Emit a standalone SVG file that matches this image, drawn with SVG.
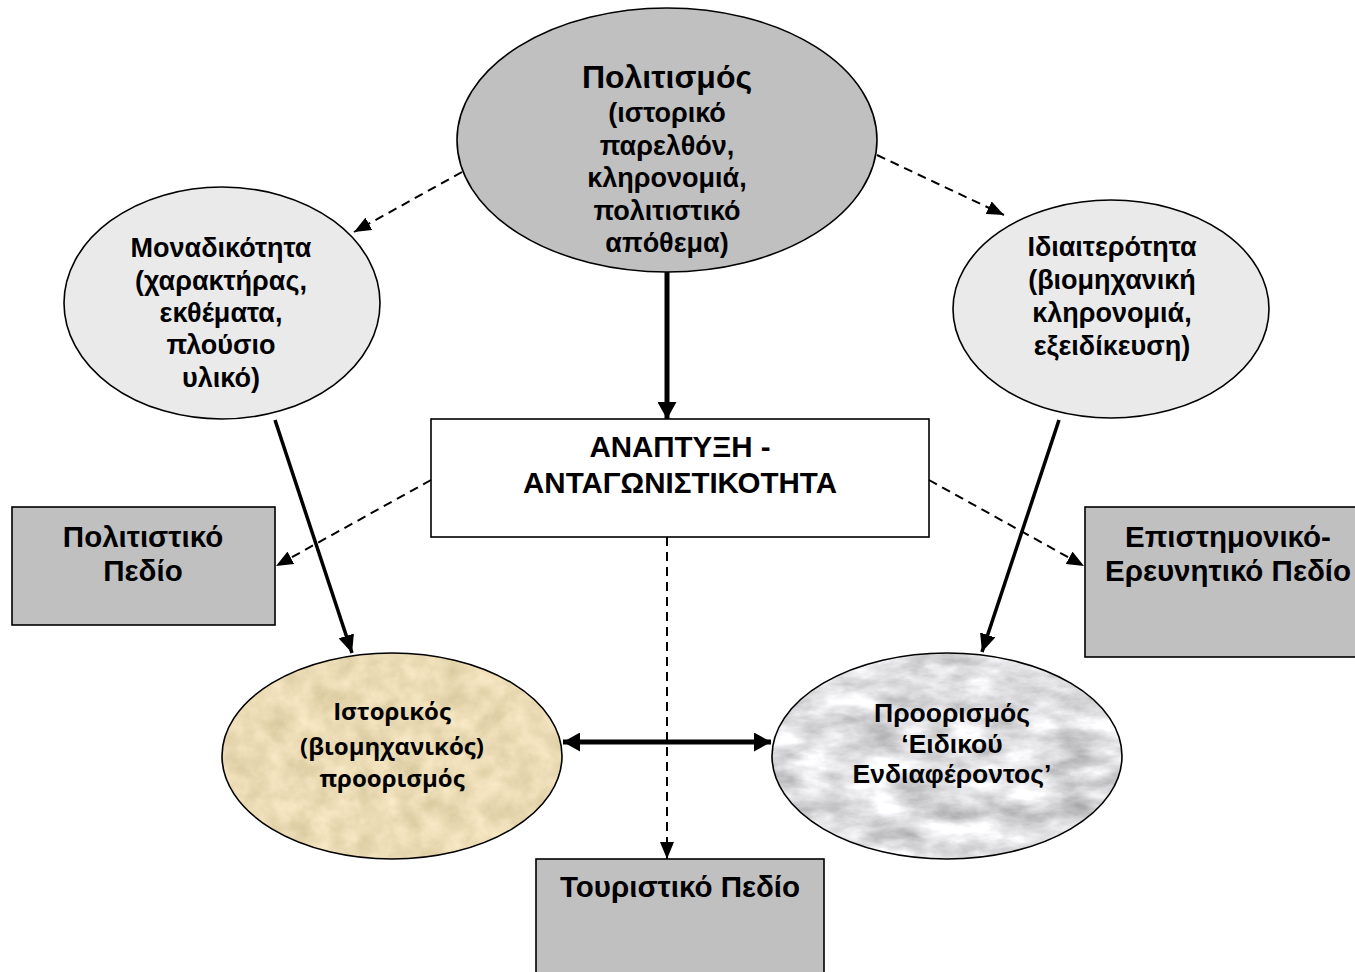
<svg xmlns="http://www.w3.org/2000/svg" width="1355" height="972" viewBox="0 0 1355 972">
<style>
.t{font-family:"Liberation Sans",Arial,sans-serif;font-weight:bold;fill:#000;text-anchor:middle}
.s{font-size:27px}
.b{font-size:29.5px}
.h{font-size:32px}
.p{font-size:26.5px}
.o{font-family:"Open Sans","Noto Sans",sans-serif;font-weight:bold;font-size:24px;fill:#000;text-anchor:middle}
.edge{stroke:#000;stroke-width:1.6}
.dash{fill:none;stroke:#000;stroke-width:2;stroke-dasharray:9 6}
.solid{fill:none;stroke:#000;stroke-width:3.5}
.thick{fill:none;stroke:#000;stroke-width:5}
</style>
<defs>
<marker id="ad" markerUnits="userSpaceOnUse" markerWidth="18" markerHeight="14" refX="17" refY="7" orient="auto"><path d="M0,0 L17,7 L0,14 z" fill="#000"/></marker>
<marker id="as" markerUnits="userSpaceOnUse" markerWidth="19" markerHeight="16" refX="18" refY="8" orient="auto"><path d="M0,0 L18,8 L0,16 z" fill="#000"/></marker>
<marker id="at" markerUnits="userSpaceOnUse" markerWidth="18" markerHeight="19" refX="17" refY="9.5" orient="auto-start-reverse"><path d="M0,0 L17,9.5 L0,19 z" fill="#000"/></marker>
<filter id="parch" x="0" y="0" width="100%" height="100%" color-interpolation-filters="sRGB">
<feTurbulence type="fractalNoise" baseFrequency="0.045" numOctaves="4" seed="7"/>
<feColorMatrix type="matrix" values="0.18 0 0 0 0.83  0.18 0 0 0 0.77  0.22 0 0 0 0.6  0 0 0 0 1"/>
</filter>
<filter id="marble" x="0" y="0" width="100%" height="100%" color-interpolation-filters="sRGB">
<feTurbulence type="fractalNoise" baseFrequency="0.02 0.045" numOctaves="5" seed="11"/>
<feColorMatrix type="matrix" values="0.55 0 0 0 0.6  0.55 0 0 0 0.6  0.55 0 0 0 0.61  0 0 0 0 1"/>
</filter>
<clipPath id="c1"><ellipse cx="392" cy="756" rx="170" ry="103"/></clipPath>
<clipPath id="c2"><ellipse cx="947" cy="756" rx="175" ry="103"/></clipPath>
</defs>
<rect width="1355" height="972" fill="#fff"/>

<g id="n-politismos">
<ellipse cx="667" cy="140" rx="210" ry="132" fill="#c0c0c0" class="edge"/>
<text class="t h" x="667" y="88">Πολιτισμός</text>
<text class="t s" x="667" y="122">(ιστορικό</text>
<text class="t s" x="667" y="154.5">παρελθόν,</text>
<text class="t s" x="667" y="187">κληρονομιά,</text>
<text class="t s" x="667" y="219.5">πολιτιστικό</text>
<text class="t s" x="667" y="252">απόθεμα)</text>
</g>

<g id="n-monadikotita">
<ellipse cx="222" cy="303" rx="158" ry="116" fill="#eaeaea" class="edge"/>
<text class="t s" x="221" y="257">Μοναδικότητα</text>
<text class="t s" x="221" y="290">(χαρακτήρας,</text>
<text class="t s" x="221" y="322">εκθέματα,</text>
<text class="t s" x="221" y="354">πλούσιο</text>
<text class="t s" x="221" y="387">υλικό)</text>
</g>

<g id="n-idiaiterotita">
<ellipse cx="1111" cy="309" rx="158" ry="109" fill="#eaeaea" class="edge"/>
<text class="t s" x="1112" y="256">Ιδιαιτερότητα</text>
<text class="t s" x="1112" y="289">(βιομηχανική</text>
<text class="t s" x="1112" y="322">κληρονομιά,</text>
<text class="t s" x="1112" y="355">εξειδίκευση)</text>
</g>

<g id="n-anaptyxi">
<rect x="431" y="419" width="498" height="118" fill="#fff" class="edge"/>
<text class="t b" x="680" y="457">ΑΝΑΠΤΥΞΗ -</text>
<text class="t b" x="680" y="493">ΑΝΤΑΓΩΝΙΣΤΙΚΟΤΗΤΑ</text>
</g>

<g id="n-politistiko-pedio">
<rect x="12" y="507" width="263" height="118" fill="#c0c0c0" class="edge"/>
<text class="t b" x="143" y="547">Πολιτιστικό</text>
<text class="t b" x="143" y="581">Πεδίο</text>
</g>

<g id="n-epistimoniko-pedio">
<rect x="1085" y="507" width="284" height="150" fill="#c0c0c0" class="edge"/>
<text class="t b" x="1228" y="547">Επιστημονικό-</text>
<text class="t b" x="1228" y="581">Ερευνητικό Πεδίο</text>
</g>

<g id="n-touristiko-pedio">
<rect x="536" y="859" width="288" height="130" fill="#c0c0c0" class="edge"/>
<text class="t b" x="680" y="897">Τουριστικό Πεδίο</text>
</g>

<g id="n-istorikos">
<ellipse cx="392" cy="756" rx="170" ry="103" fill="#eadbb5"/>
<rect x="222" y="653" width="340" height="206" filter="url(#parch)" clip-path="url(#c1)"/>
<ellipse cx="392" cy="756" rx="170" ry="103" fill="none" class="edge"/>
<text class="o" x="392" y="720">Ιστορικός</text>
<text class="o" x="392" y="755">(βιομηχανικός)</text>
<text class="o" x="392" y="787">προορισμός</text>
</g>

<g id="n-proorismos">
<ellipse cx="947" cy="756" rx="175" ry="103" fill="#dcdcde"/>
<rect x="772" y="653" width="350" height="206" filter="url(#marble)" clip-path="url(#c2)"/>
<ellipse cx="947" cy="756" rx="175" ry="103" fill="none" class="edge"/>
<text class="t p" x="952" y="722">Προορισμός</text>
<text class="t p" x="952" y="753">‘Ειδικού</text>
<text class="t p" x="952" y="783">Ενδιαφέροντος’</text>
</g>

<g id="connectors">
<line class="dash" x1="462" y1="172" x2="354" y2="232" marker-end="url(#ad)"/>
<line class="dash" x1="877" y1="155" x2="1004" y2="215" marker-end="url(#ad)"/>
<line class="thick" x1="667" y1="272" x2="667" y2="419" marker-end="url(#at)"/>
<line class="solid" x1="275" y1="420" x2="352" y2="653" marker-end="url(#as)"/>
<line class="solid" x1="1059" y1="420" x2="982" y2="652" marker-end="url(#as)"/>
<line class="dash" x1="431" y1="480" x2="276" y2="566" marker-end="url(#ad)"/>
<line class="dash" x1="929" y1="480" x2="1084" y2="566" marker-end="url(#ad)"/>
<line class="dash" x1="667" y1="537" x2="667" y2="859" marker-end="url(#ad)"/>
<line class="thick" x1="563" y1="742" x2="771" y2="742" marker-start="url(#at)" marker-end="url(#at)"/>
</g>
</svg>
